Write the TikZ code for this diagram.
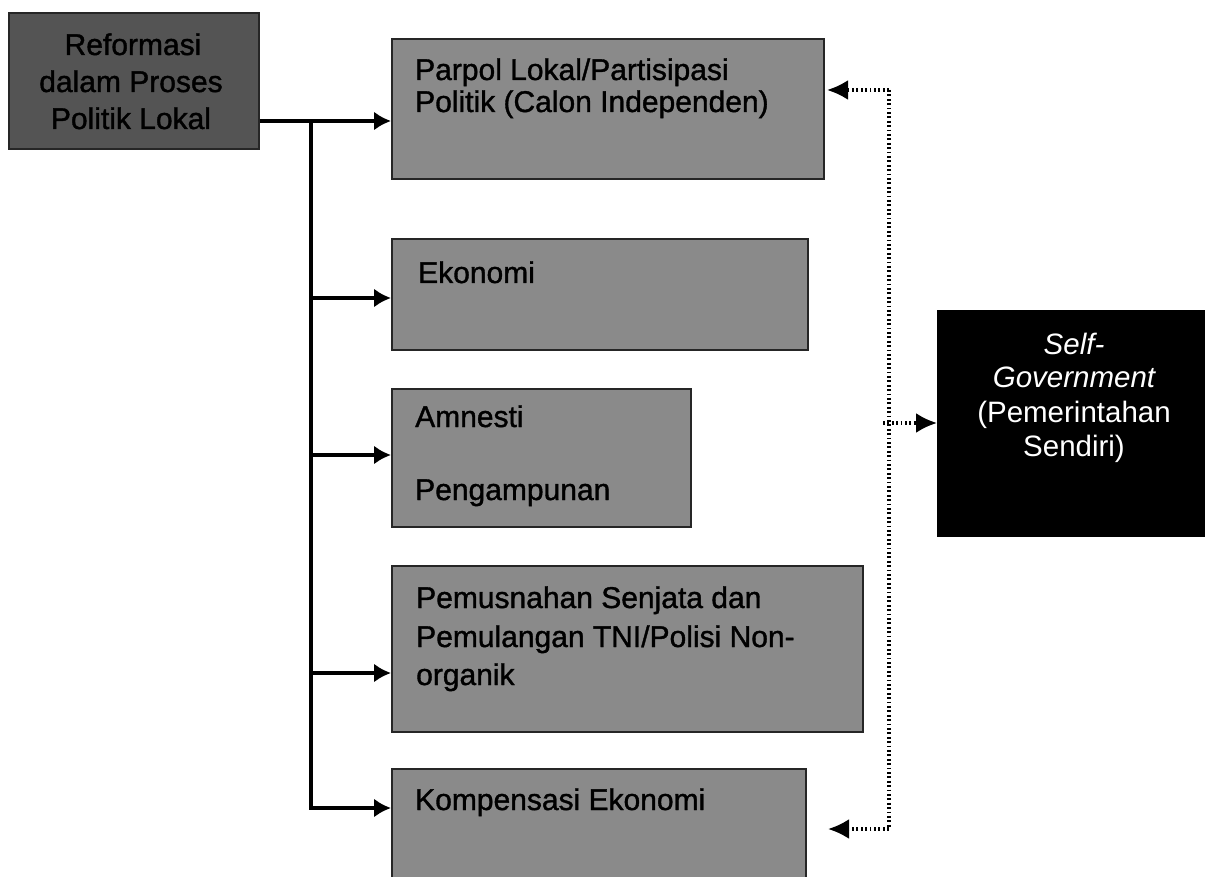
\documentclass[tikz,border=0pt]{standalone}
\usepackage{fontspec}
\setmainfont{Liberation Sans}
\newfontfamily\heavyfont{Liberation Sans}[BoldFont={Liberation Sans}, BoldFeatures={FakeBold=1.2}]
\usetikzlibrary{arrows.meta}
\definecolor{boxgray}{HTML}{8A8A8A}
\definecolor{darkbox}{HTML}{545454}
\begin{document}
\begin{tikzpicture}[x=1pt,y=-1pt,
  box/.style={draw=black!85, line width=1.6pt, fill=boxgray, anchor=north west, inner sep=0pt},
  txt/.style={anchor=base west, inner sep=0pt, font=\heavyfont\bfseries\fontsize{30}{34}\selectfont, text=black},
  wtxt/.style={anchor=base, inner sep=0pt, font=\fontsize{29.5}{32}\selectfont, text=white},
  conn/.style={line width=3.4pt, -{Latex[length=17pt,width=19pt]}},
  dots/.style={line width=3.2pt, dash pattern=on 1.8pt off 2.6pt},
  dotarr/.style={dots, -{Latex[length=21pt,width=20pt]}}]
\useasboundingbox[fill=white] (0,0) rectangle (1205,877);

% boxes
\node[box, fill=darkbox, minimum width=250pt, minimum height=136pt] (A) at (8,12) {};
\node[box, minimum width=432pt, minimum height=140pt] (B) at (391,38) {};
\node[box, minimum width=416pt, minimum height=111pt] (C) at (391,238) {};
\node[box, minimum width=299pt, minimum height=138pt] (D) at (391,388) {};
\node[box, minimum width=471pt, minimum height=166pt] (E) at (391,565) {};
\node[box, minimum width=414pt, minimum height=120pt] (F) at (391,768) {};
\node[box, fill=black, draw=black, minimum width=272pt, minimum height=225pt] (G) at (937,310) {};

% texts
\node[txt, anchor=base] (At1) at (133,55) {Reformasi};
\node[txt, anchor=base] (At2) at (131,92) {dalam Proses};
\node[txt, anchor=base] (At3) at (131,129) {Politik Lokal};

\node[txt] (Bt1) at (415,80) {Parpol Lokal/Partisipasi};
\node[txt] (Bt2) at (415,112) {Politik (Calon Independen)};

\node[txt] (Ct1) at (418,283) {Ekonomi};

\node[txt] (Dt1) at (415,427) {Amnesti};
\node[txt] (Dt2) at (415,500) {Pengampunan};

\node[txt] (Et1) at (416,608) {Pemusnahan Senjata dan};
\node[txt] (Et2) at (416,647) {Pemulangan TNI/Polisi Non-};
\node[txt] (Et3) at (416,685) {organik};

\node[txt] (Ft1) at (415,810) {Kompensasi Ekonomi};

\node[wtxt] (Gt1) at (1074,355) {\itshape Self-};
\node[wtxt] (Gt2) at (1074,388) {\itshape Government};
\node[wtxt] (Gt3) at (1074,422) {(Pemerintahan};
\node[wtxt] (Gt4) at (1074,456) {Sendiri)};

% solid connectors
\coordinate (j0) at (311,121);
\draw[conn] (A.east |- j0) -- (B.west |- j0);
\draw[conn] (j0) |- (F.west |- 0,808);
\draw[conn] (j0 |- 0,298) -- (C.west |- 0,298);
\draw[conn] (j0 |- 0,455) -- (D.west |- 0,455);
\draw[conn] (j0 |- 0,673) -- (E.west |- 0,673);

% dotted connectors
\coordinate (dT) at (889,90);
\coordinate (dB) at (889,829);
\coordinate (tipB) at (827,90);
\coordinate (tipF) at (828,829);
\coordinate (dM) at (883,423);
\draw[dots] (dT) -- (dB);
\draw[dotarr] (dT) -- (tipB);
\draw[dotarr] (dB) -- (tipF);
\draw[dotarr] (dM) -- (G.west |- dM);
\end{tikzpicture}
\end{document}
